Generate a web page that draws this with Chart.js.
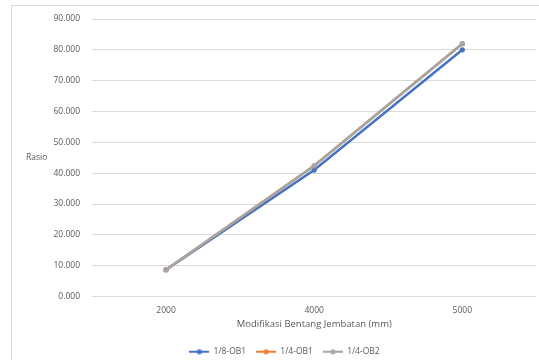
<!DOCTYPE html>
<html>
<head>
<meta charset="utf-8">
<script src="https://cdn.jsdelivr.net/npm/chart.js@4/dist/chart.umd.min.js"></script>
<style>
  html, body { margin: 0; padding: 0; background: #ffffff; }
  #wrap { position: relative; width: 539px; height: 360px; overflow: hidden; }
  #frame { position: absolute; left: 11px; top: 5px; width: 700px; height: 500px; border: 1px solid #d9d9d9; box-sizing: border-box; }
  #c { position: absolute; left: 0; top: 0; }
</style>
</head>
<body>
<div id="wrap">
  <div id="frame"></div>
  <canvas id="c" width="539" height="360"></canvas>
</div>
<script>
// Bridge span modifications (mm) and resulting ratio per configuration
const categories = ['2000', '4000', '5000'];
const seriesNames = ['1/8-OB1', '1/4-OB1', '1/4-OB2'];
const ob1Eighth = [8.7, 41.0, 80.0];
const ob1Quarter = [8.7, 42.4, 82.0];
const ob2Quarter = [8.7, 42.4, 82.0];
const seriesColors = ['#4472C4', '#ED7D31', '#A5A5A5'];

const FONT = '"Open Sans", "Liberation Sans", sans-serif';
const TEXT = '#595959';

// Small line-with-marker swatch for the legend
function swatch(color) {
  const cv = document.createElement('canvas');
  cv.width = 20; cv.height = 8;
  const g = cv.getContext('2d');
  g.strokeStyle = color; g.lineWidth = 2;
  g.beginPath(); g.moveTo(0, 4); g.lineTo(20, 4); g.stroke();
  g.fillStyle = color;
  g.beginPath(); g.arc(10, 4, 2.6, 0, Math.PI * 2); g.fill();
  return cv;
}
const swatches = seriesColors.map(swatch);

// Horizontal y-axis title, drawn left of the tick labels
const yTitlePlugin = {
  id: 'yTitle',
  afterDraw(chart) {
    const ctx = chart.ctx;
    const y = chart.scales.y;
    ctx.save();
    ctx.font = '8.5px ' + FONT;
    ctx.fillStyle = TEXT;
    ctx.textAlign = 'left';
    ctx.textBaseline = 'middle';
    ctx.fillText('Rasio', 26, (y.top + y.bottom) / 2);
    ctx.restore();
  }
};

const values = [ob1Eighth, ob1Quarter, ob2Quarter];
// later series are painted over earlier ones
const drawOrder = [2, 1, 0];

new Chart(document.getElementById('c'), {
  type: 'line',
  data: {
    labels: categories,
    datasets: seriesNames.map((name, i) => ({
      label: name,
      data: values[i],
      order: drawOrder[i],
      borderColor: seriesColors[i],
      backgroundColor: seriesColors[i],
      borderWidth: 2.5,
      pointRadius: 2.6,
      pointHoverRadius: 2.6,
      pointBorderWidth: 0,
      tension: 0
    }))
  },
  options: {
    responsive: false,
    animation: false,
    devicePixelRatio: 1,
    layout: { padding: { left: 27, right: -3, top: 19, bottom: -6 } },
    plugins: {
      tooltip: { enabled: false },
      legend: {
        position: 'bottom',
        labels: {
          usePointStyle: true,
          pointStyleWidth: 20,
          padding: 10,
          color: TEXT,
          font: { family: FONT, size: 8.5 },
          sort: (a, b) => a.datasetIndex - b.datasetIndex,
          generateLabels(chart) {
            const items = Chart.defaults.plugins.legend.labels.generateLabels(chart);
            items.forEach((it) => { it.pointStyle = swatches[it.datasetIndex]; });
            return items;
          }
        }
      }
    },
    scales: {
      x: {
        type: 'category',
        offset: true,
        grid: { display: false, drawTicks: false },
        border: { display: false },
        ticks: { color: TEXT, font: { family: FONT, size: 8.5 }, padding: 9, maxRotation: 0 },
        title: {
          display: true,
          text: 'Modifikasi Bentang Jembatan (mm)',
          color: TEXT,
          font: { family: FONT, size: 9.5 },
          padding: { top: 0, bottom: 8 }
        },
        afterFit(scale) { scale.height = 41; }
      },
      y: {
        min: 0,
        max: 90,
        grid: { color: '#d9d9d9', lineWidth: 1, drawTicks: false },
        border: { display: false },
        ticks: {
          stepSize: 10,
          color: TEXT,
          font: { family: FONT, size: 8.5 },
          padding: 12,
          callback: (v) => v.toFixed(3)
        },
        afterFit(scale) { scale.width = 65; }
      }
    }
  },
  plugins: [yTitlePlugin]
});
</script>
</body>
</html>
